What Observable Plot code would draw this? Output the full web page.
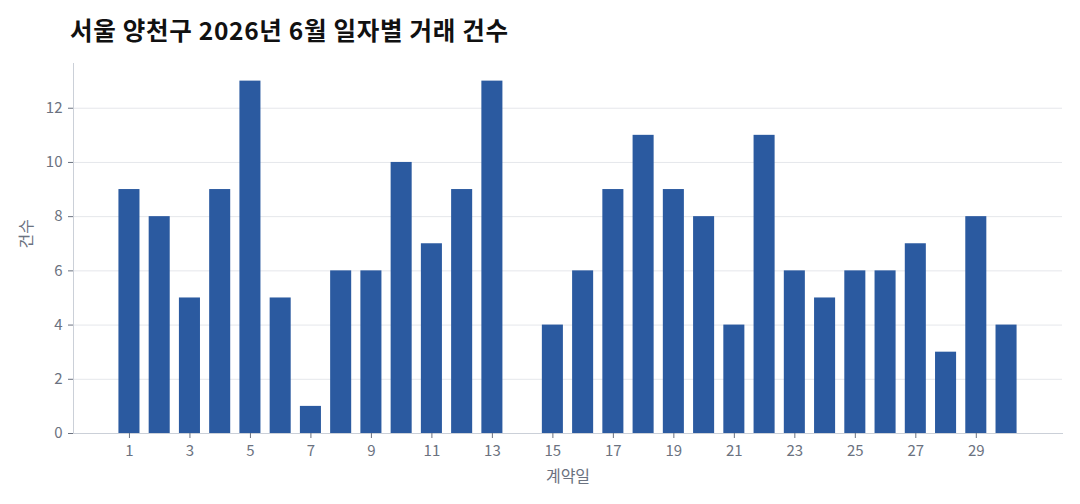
<!DOCTYPE html>
<html>
<head>
<meta charset="utf-8">
<script src="https://cdn.jsdelivr.net/npm/d3@7"></script>
<script src="https://cdn.jsdelivr.net/npm/@observablehq/plot@0.6"></script>
<style>
  body { margin: 0; background: #fff; font-family: "Noto Sans CJK KR", "Noto Sans", sans-serif; }
  #title { height: 50px; box-sizing: border-box; padding: 14px 0 0 70px; font-size: 24.5px; letter-spacing: 0.7px; font-weight: 700; color: #111; line-height: 32px; }
  #chart svg { display: block; }
  #chart g[aria-label="x-axis tick label"], #chart g[aria-label="y-axis tick label"] { font-size: 15px; }
</style>
</head>
<body>
<div id="title"></div>
<div id="chart"></div>
<script>
const titleText = "서울 양천구 2026년 6월 일자별 거래 건수";
const xLabel = "계약일";
const yLabel = "건수";
const days = [1,2,3,4,5,6,7,8,9,10,11,12,13,14,15,16,17,18,19,20,21,22,23,24,25,26,27,28,29,30];
const counts = [9,8,5,9,13,5,1,6,6,10,7,9,13,0,4,6,9,11,9,8,4,11,6,5,6,6,7,3,8,4];
const xTicks = [1,3,5,7,9,11,13,15,17,19,21,23,25,27,29];
const yTicks = [0,2,4,6,8,10,12];

document.getElementById("title").textContent = titleText;
const data = days.map((d, i) => ({day: d, count: counts[i]}));

const chart = Plot.plot({
  width: 1080,
  height: 454,
  marginTop: 13,
  marginBottom: 71,
  marginLeft: 73,
  marginRight: 18,
  style: {fontFamily: '"Noto Sans CJK KR", "Noto Sans", sans-serif', fontSize: "15px", color: "#6b7280", background: "#fff"},
  x: {domain: [-0.85, 31.85]},
  y: {domain: [0, 13.65]},
  marks: [
    Plot.gridY(yTicks, {stroke: "#e5e7eb", strokeOpacity: 1}),
    Plot.rectY(data, {x1: d => d.day - 0.5, x2: d => d.day + 0.5, y: "count", fill: "#2b5aa0", insetLeft: 4.6, insetRight: 4.6}),
    Plot.frame({anchor: "left", stroke: "#cbd0d8"}),
    Plot.frame({anchor: "bottom", stroke: "#cbd0d8"}),
    Plot.axisX(xTicks, {tickSize: 5, tickPadding: 7, stroke: "#6b7280", fill: "#6b7280", fontSize: 15, label: null}),
    Plot.axisY(yTicks, {tickSize: 5, tickPadding: 6, stroke: "#6b7280", fill: "#6b7280", fontSize: 15, label: null}),
    Plot.text([xLabel], {frameAnchor: "bottom", dy: 48, fill: "#6b7280", fontSize: 16}),
    Plot.text([yLabel], {frameAnchor: "left", dx: -47, rotate: -90, fill: "#6b7280", fontSize: 16})
  ]
});
document.getElementById("chart").appendChild(chart);
</script>
</body>
</html>
